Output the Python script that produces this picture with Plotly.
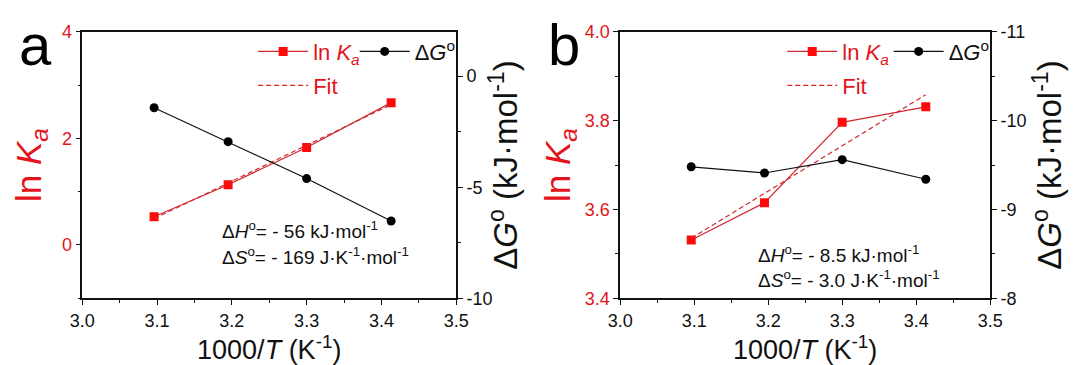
import numpy as np
import plotly.graph_objects as go

# ---------------- data ----------------
inv_T = [3.096, 3.195, 3.300, 3.413]          # 1000/T (K^-1)
lnKa_a = [0.53, 1.13, 1.83, 2.67]
dG_a = [-1.42, -2.95, -4.61, -6.52]
lnKa_b = [3.531, 3.615, 3.796, 3.831]
dG_b = [-9.48, -9.41, -9.56, -9.34]

x_ticks = [3.0, 3.1, 3.2, 3.3, 3.4, 3.5]
x_ticktext = ["3.0", "3.1", "3.2", "3.3", "3.4", "3.5"]
ya_ticks = [0, 2, 4]
ya_ticktext = ["0", "2", "4"]
ya2_ticks = [0, -5, -10]
ya2_ticktext = ["0", "-5", "-10"]
yb_ticks = [3.4, 3.6, 3.8, 4.0]
yb_ticktext = ["3.4", "3.6", "3.8", "4.0"]
yb2_ticks = [-8, -9, -10, -11]
yb2_ticktext = ["-8", "-9", "-10", "-11"]

anno_a = ["Δ<i>H</i><sup>o</sup>= - 56 kJ·mol<sup>-1</sup>",
          "Δ<i>S</i><sup>o</sup>= - 169 J·K<sup>-1</sup>·mol<sup>-1</sup>"]
anno_b = ["Δ<i>H</i><sup>o</sup>= - 8.5 kJ·mol<sup>-1</sup>",
          "Δ<i>S</i><sup>o</sup>= - 3.0 J·K<sup>-1</sup>·mol<sup>-1</sup>"]

# linear fits (van 't Hoff)
def fit_line(x, y):
    k, b = np.polyfit(x, y, 1)
    xs = [x[0], x[-1]]
    return xs, [k * v + b for v in xs]

fxa, fya = fit_line(inv_T, lnKa_a)
fxb, fyb = fit_line(inv_T, lnKa_b)

# ---------------- style ----------------
FONT = "Arial, 'Liberation Sans', sans-serif"
RED = "#e3141c"
RED_LINE = "#d02a2e"
BLACK = "#111111"
W, H = 1092, 365

def px_x(p):
    return p / W

def px_y(p):
    return 1 - p / H

LNK = "ln <i>K</i><sub><i>a</i></sub>"
DG = "Δ<i>G</i><sup>o</sup>"

fig = go.Figure()

def add_panel(xa, ya, ya2, lnk, dg, fx, fy, lg1, lg2, lg3):
    fig.add_trace(go.Scatter(x=inv_T, y=lnk, mode="lines+markers", name=LNK,
                             xaxis=xa, yaxis=ya, legend=lg1,
                             line=dict(color=RED_LINE, width=1.2),
                             marker=dict(symbol="square", size=9, color="#ff0a0a")))
    fig.add_trace(go.Scatter(x=fx, y=fy, mode="lines", name="Fit",
                             xaxis=xa, yaxis=ya, legend=lg3,
                             line=dict(color=RED_LINE, width=1.2, dash="5px,3px")))
    fig.add_trace(go.Scatter(x=inv_T, y=dg, mode="lines+markers", name=DG,
                             xaxis=xa, yaxis=ya2, legend=lg2,
                             line=dict(color=BLACK, width=1.2),
                             marker=dict(symbol="circle", size=9, color="#000000")))

add_panel("x", "y", "y2", lnKa_a, dG_a, fxa, fya, "legend", "legend2", "legend3")
add_panel("x2", "y3", "y4", lnKa_b, dG_b, fxb, fyb, "legend4", "legend5", "legend6")

YDOM = [px_y(305), px_y(23)]
XDOM_A = [px_x(71), px_x(454)]
XDOM_B = [px_x(622), px_x(1001)]

tickfont_k = dict(family=FONT, size=18, color=BLACK)
tickfont_r = dict(family=FONT, size=18, color=RED)

def xaxis_cfg(dom, anchor):
    return dict(domain=dom, anchor=anchor, range=[3.0, 3.5],
                tickvals=x_ticks, ticktext=x_ticktext,
                showline=True, linecolor=BLACK, linewidth=1.5, mirror=True,
                ticks="outside", ticklen=5, tickwidth=1.2, tickcolor=BLACK,
                minor=dict(dtick=0.05, ticks="outside", ticklen=3, tickcolor=BLACK),
                showgrid=False, zeroline=False, tickfont=tickfont_k,
                title=dict(text="1000/<i>T</i> (K<sup>-1</sup>)",
                           font=dict(family=FONT, size=27, color=BLACK), standoff=4))

def yleft_cfg(anchor, rng, tv, tt, minor_dtick, standoff):
    return dict(domain=YDOM, anchor=anchor, range=rng, tickvals=tv, ticktext=tt,
                showline=True, linecolor=BLACK, linewidth=1.5,
                ticks="outside", ticklen=5, tickwidth=1.2, tickcolor=BLACK,
                minor=dict(dtick=minor_dtick, ticks="outside", ticklen=3, tickcolor=BLACK),
                showgrid=False, zeroline=False, tickfont=tickfont_r,
                title=dict(text=LNK, font=dict(family=FONT, size=35, color=RED),
                           standoff=standoff))

def yright_cfg(anchor, overlay, rng, tv, tt, minor_dtick, standoff):
    return dict(domain=YDOM, anchor=anchor, overlaying=overlay, side="right",
                range=rng, tickvals=tv, ticktext=tt,
                showline=True, linecolor=BLACK, linewidth=1.5,
                ticks="outside", ticklen=5, tickwidth=1.2, tickcolor=BLACK,
                minor=dict(dtick=minor_dtick, ticks="outside", ticklen=3, tickcolor=BLACK),
                showgrid=False, zeroline=False, tickfont=tickfont_k,
                title=dict(text=DG + " (kJ·mol<sup>-1</sup>)",
                           font=dict(family=FONT, size=33, color=BLACK),
                           standoff=standoff))

def legend_cfg(x, y, color):
    return dict(x=px_x(x), y=px_y(y), xanchor="left", yanchor="middle",
                bgcolor="rgba(0,0,0,0)", borderwidth=0, itemwidth=50,
                font=dict(family=FONT, size=22, color=color), tracegroupgap=0,
                itemclick=False)

annotations = [
    dict(text="a", x=px_x(4), y=px_y(36), xref="paper", yref="paper",
         xanchor="left", yanchor="middle", showarrow=False,
         font=dict(family=FONT, size=58, color="#000000")),
    dict(text="b", x=px_x(546), y=px_y(36), xref="paper", yref="paper",
         xanchor="left", yanchor="middle", showarrow=False,
         font=dict(family=FONT, size=58, color="#000000")),
]
for i, t in enumerate(anno_a):
    annotations.append(dict(text=t, x=px_x(212), y=px_y(233 + 27 * i),
                            xref="paper", yref="paper", xanchor="left", yanchor="middle",
                            showarrow=False, font=dict(family=FONT, size=19, color=BLACK)))
for i, t in enumerate(anno_b):
    annotations.append(dict(text=t, x=px_x(761), y=px_y(258 + 27 * i),
                            xref="paper", yref="paper", xanchor="left", yanchor="middle",
                            showarrow=False, font=dict(family=FONT, size=19, color=BLACK)))

fig.update_layout(
    width=W, height=H, autosize=False,
    margin=dict(l=0, r=0, t=0, b=0),
    paper_bgcolor="white", plot_bgcolor="white",
    font=dict(family=FONT, color=BLACK),
    xaxis=xaxis_cfg(XDOM_A, "y"),
    yaxis=yleft_cfg("x", [-1, 4], ya_ticks, ya_ticktext, 1, 10),
    yaxis2=yright_cfg("x", "y", [-10, 2], ya2_ticks, ya2_ticktext, 2.5, 1),
    xaxis2=xaxis_cfg(XDOM_B, "y3"),
    yaxis3=yleft_cfg("x2", [3.4, 4.0], yb_ticks, yb_ticktext, 0.1, 4),
    yaxis4=yright_cfg("x2", "y3", [-8, -11], yb2_ticks, yb2_ticktext, 0.5, 6),
    legend=legend_cfg(246, 44, RED),
    legend2=legend_cfg(350, 44, BLACK),
    legend3=legend_cfg(246, 80, RED),
    legend4=legend_cfg(788, 44, RED),
    legend5=legend_cfg(897, 44, BLACK),
    legend6=legend_cfg(788, 80, RED),
    annotations=annotations,
    showlegend=True,
)

fig.write_html("out.html")
